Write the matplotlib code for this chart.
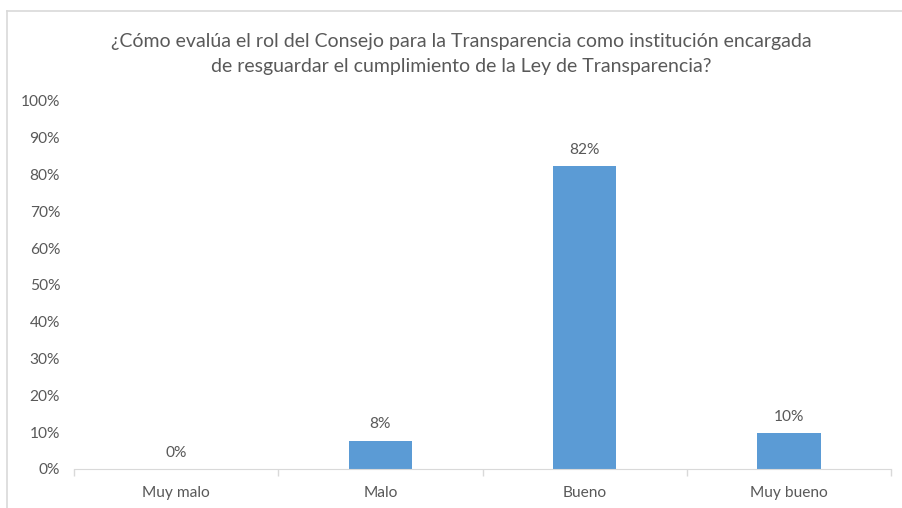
import matplotlib.pyplot as plt
from matplotlib.lines import Line2D

categories = ['Muy malo', 'Malo', 'Bueno', 'Muy bueno']
values = [0.0, 0.077, 0.823, 0.097]
yticks = [i / 10 for i in range(11)]

title = ('¿Cómo evalúa el rol del Consejo para la Transparencia como institución encargada\n'
         'de resguardar el cumplimiento de la Ley de Transparencia?')

text_color = '#595959'
bar_color = '#5b9bd5'
line_color = '#d9d9d9'

plt.rcParams['font.family'] = ['Lato', 'DejaVu Sans']

fig = plt.figure(figsize=(9.02, 5.08), dpi=100)
ax = fig.add_axes([74 / 902, 1 - 469 / 508, (891 - 74) / 902, (469 - 101) / 508])

x = range(len(categories))
ax.bar(x, values, width=0.31, color=bar_color)
for xi, v in zip(x, values):
    ax.text(xi, v + 0.025, f'{v:.0%}', ha='center', va='bottom',
            fontsize=11.2, color=text_color)

ax.set_xlim(-0.5, len(categories) - 0.5)
ax.set_ylim(0, 1)
ax.set_yticks(yticks)
ax.set_yticklabels([f'{t:.0%}' for t in yticks])
ax.set_xticks(list(x))
ax.set_xticklabels(categories)
ax.set_xticks([i - 0.5 for i in range(len(categories) + 1)], minor=True)
ax.tick_params(axis='x', which='major', length=0, pad=12, labelsize=11.2, labelcolor=text_color)
ax.tick_params(axis='x', which='minor', length=5, color=line_color, width=1)
ax.tick_params(axis='y', length=0, pad=10, labelsize=11.2, labelcolor=text_color)

for side in ['left', 'right', 'top']:
    ax.spines[side].set_visible(False)
ax.spines['bottom'].set_color(line_color)

fig.text(461 / 902, 1 - 54 / 508, title, ha='center', va='center',
         fontsize=14, color=text_color, linespacing=1.55)

# chart border (only top and left edges are visible in the crop)
bx = 7.5 / 902
by = 1 - 10.5 / 508
fig.add_artist(Line2D([bx, bx], [0, by], transform=fig.transFigure, color=line_color, lw=1.2))
fig.add_artist(Line2D([bx, 1], [by, by], transform=fig.transFigure, color=line_color, lw=1.2))

fig.savefig('out.png', dpi=100, facecolor='white')
